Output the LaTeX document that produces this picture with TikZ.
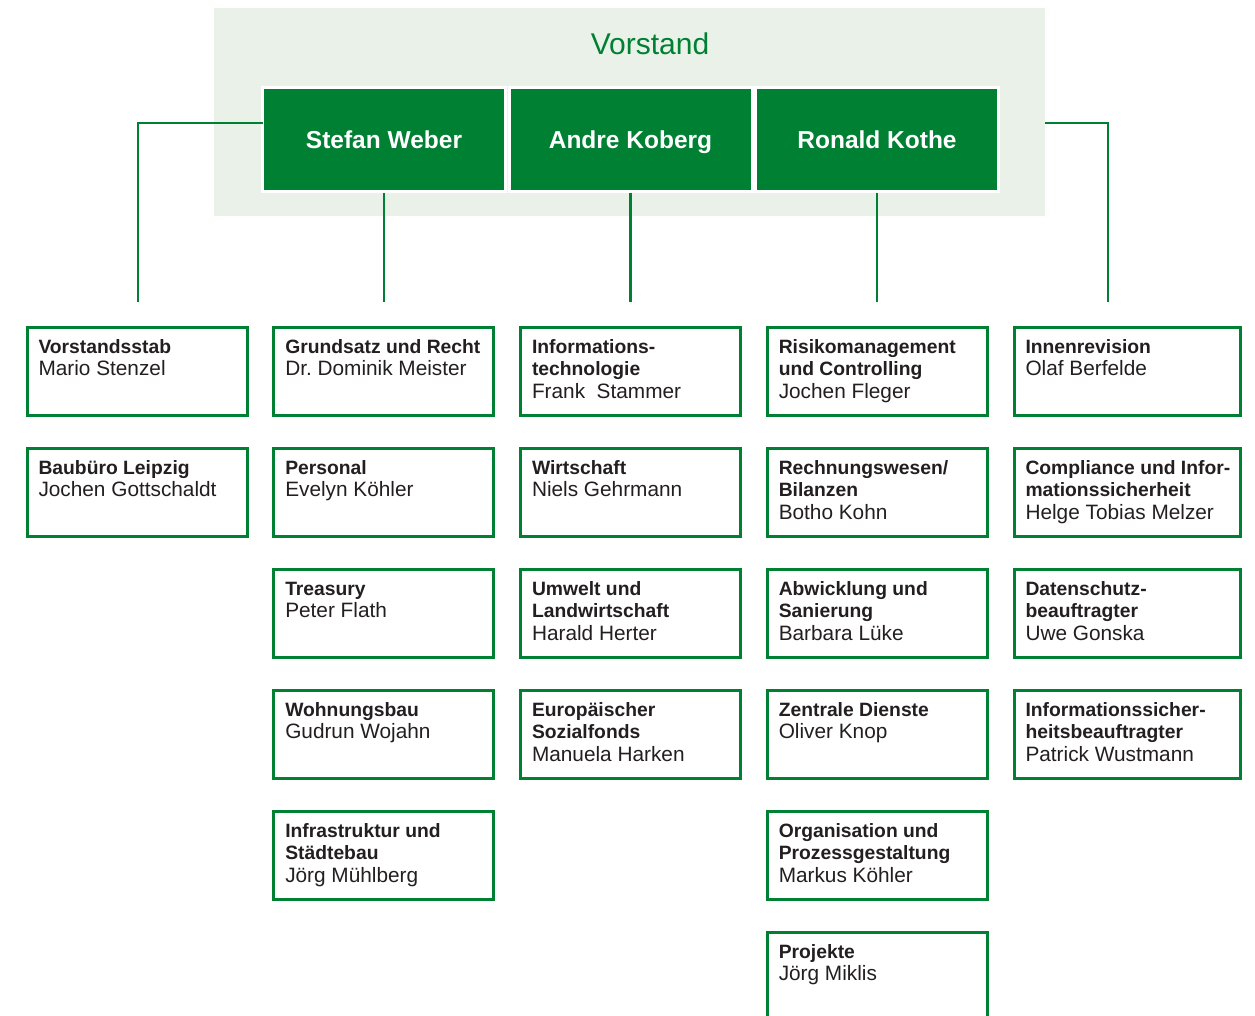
\documentclass[tikz,border=0pt]{standalone}
\usepackage{fontspec}
\setmainfont{Liberation Sans}
\frenchspacing
\definecolor{grn}{RGB}{0,128,51}
\definecolor{pale}{RGB}{233,241,233}
\definecolor{ink}{RGB}{35,31,32}
\newcommand\ls{\rule[-6.5pt]{0pt}{22.5pt}}
\newcommand\hd[1]{{\fontsize{19.3}{22.5}\selectfont\bfseries #1}}
\newcommand\orgunit[4]{%
  \pgfmathsetmacro\ux{27+246.75*(#2-1)}%
  \pgfmathsetmacro\uy{-327-121*(#3-1)}%
  \pgfmathsetmacro\uw{#2==5 ? 226 : 220}%
  \node[unitbox,minimum width=\uw pt] (#1) at (\ux,\uy) {};
  \node[unittext] (#1t) at ([xshift=11.5pt,yshift=-10pt]#1.north west) {\ls#4};
}
\begin{document}
\begin{tikzpicture}[x=1pt,y=1pt,
  unitbox/.style={draw=grn,line width=3pt,fill=white,minimum height=88pt,inner sep=0pt,outer sep=0pt,anchor=north west},
  unittext/.style={anchor=north west,inner sep=0pt,outer sep=0pt,align=left,text=ink,font=\fontsize{20.8}{22.5}\selectfont},
  headbox/.style={fill=grn,draw=white,line width=3pt,minimum width=243pt,minimum height=104pt,inner sep=0pt,outer sep=0pt,text height=19pt,text depth=0pt,text=white,font=\fontsize{24.5}{28}\selectfont\bfseries},
  conn/.style={draw=grn,line width=2.8pt}]
\useasboundingbox (0,0) rectangle (1255,-1016);
\node[fill=pale,minimum width=831pt,minimum height=208pt,inner sep=0pt,outer sep=0pt,anchor=north west] (vbg) at (214,-8) {};
\node[text=grn,font=\fontsize{30}{34}\selectfont] (vtitle) at (650,-44) {Vorstand};
\coordinate (c1top) at (138,-302);
\coordinate (c5top) at (1108,-302);
\node[headbox] (stefan) at (384,-139.5) {Stefan Weber};
\node[headbox] (andre) at (630.5,-139.5) {Andre Koberg};
\node[headbox] (ronald) at (877,-139.5) {Ronald Kothe};
\draw[conn] ([yshift=16.5pt]stefan.west) -| (c1top);
\draw[conn] ([yshift=-11pt]vbg.east) -| (c5top);
\draw[conn] ([yshift=-1.5pt]stefan.south) -- (stefan.south |- c1top);
\draw[conn] ([yshift=-1.5pt]andre.south) -- (andre.south |- c1top);
\draw[conn] ([yshift=-1.5pt]ronald.south) -- (ronald.south |- c1top);
% column 1
\orgunit{a1}{1}{1}{\hd{Vorstandsstab}\\Mario Stenzel}
\orgunit{a2}{1}{2}{\hd{Baubüro Leipzig}\\Jochen Gottschaldt}
% column 2
\orgunit{b1}{2}{1}{\hd{Grundsatz und Recht}\\Dr.\ Dominik Meister}
\orgunit{b2}{2}{2}{\hd{Personal}\\Evelyn Köhler}
\orgunit{b3}{2}{3}{\hd{Treasury}\\Peter Flath}
\orgunit{b4}{2}{4}{\hd{Wohnungsbau}\\Gudrun Wojahn}
\orgunit{b5}{2}{5}{\hd{Infrastruktur und}\\\hd{Städtebau}\\Jörg Mühlberg}
% column 3
\orgunit{c1}{3}{1}{\hd{Informations-}\\\hd{technologie}\\Frank~~Stammer}
\orgunit{c2}{3}{2}{\hd{Wirtschaft}\\Niels Gehrmann}
\orgunit{c3}{3}{3}{\hd{Umwelt und}\\\hd{Landwirtschaft}\\Harald Herter}
\orgunit{c4}{3}{4}{\hd{Europäischer}\\\hd{Sozialfonds}\\Manuela Harken}
% column 4
\orgunit{d1}{4}{1}{\hd{Risikomanagement}\\\hd{und Controlling}\\Jochen Fleger}
\orgunit{d2}{4}{2}{\hd{Rechnungswesen/}\\\hd{Bilanzen}\\Botho Kohn}
\orgunit{d3}{4}{3}{\hd{Abwicklung und}\\\hd{Sanierung}\\Barbara Lüke}
\orgunit{d4}{4}{4}{\hd{Zentrale Dienste}\\Oliver Knop}
\orgunit{d5}{4}{5}{\hd{Organisation und}\\\hd{Prozessgestaltung}\\Markus Köhler}
\orgunit{d6}{4}{6}{\hd{Projekte}\\Jörg Miklis}
% column 5
\orgunit{e1}{5}{1}{\hd{Innenrevision}\\Olaf Berfelde}
\orgunit{e2}{5}{2}{\hd{Compliance und Infor-}\\\hd{mationssicherheit}\\Helge Tobias Melzer}
\orgunit{e3}{5}{3}{\hd{Datenschutz-}\\\hd{beauftragter}\\Uwe Gonska}
\orgunit{e4}{5}{4}{\hd{Informationssicher-}\\\hd{heitsbeauftragter}\\Patrick Wustmann}
\end{tikzpicture}
\end{document}
